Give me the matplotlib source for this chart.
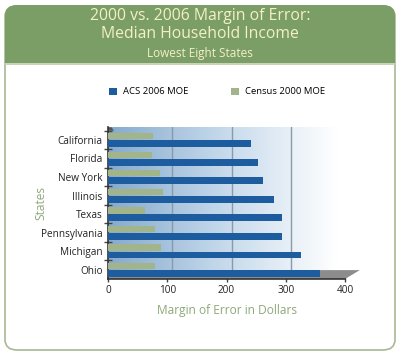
import numpy as np
import matplotlib
matplotlib.use("Agg")
import matplotlib.pyplot as plt
from matplotlib.patches import FancyBboxPatch, Rectangle, Polygon
from matplotlib.colors import LinearSegmentedColormap
import matplotlib.transforms as mtransforms

states = ["California", "Florida", "New York", "Illinois", "Texas",
          "Pennsylvania", "Michigan", "Ohio"]
acs_2006 = [242, 253, 261, 280, 293, 293, 325, 358]
census_2000 = [76, 75, 88, 92, 62, 79, 90, 80]
xticks = [0, 100, 200, 300, 400]

plt.rcParams['font.family'] = ['Open Sans', 'DejaVu Sans']

fig = plt.figure(figsize=(4.0, 3.54), dpi=100)
W, H = 400, 354

def fx(px):
    return px / W

def fy(py):
    return 1 - py / H

# Frame
frame = FancyBboxPatch((fx(5), fy(350)), fx(390), (350 - 6) / H,
                       boxstyle="round,pad=0,rounding_size=0.03",
                       transform=fig.transFigure, facecolor="white",
                       edgecolor="#a9b894", linewidth=1.2, zorder=0)
fig.patches.append(frame)
header = FancyBboxPatch((fx(5), fy(63)), fx(390), (63 - 5) / H,
                        boxstyle="round,pad=0,rounding_size=0.03",
                        transform=fig.transFigure, facecolor="#7a9e66",
                        edgecolor="none", zorder=1)
fig.patches.append(header)
fig.patches.append(Rectangle((fx(5), fy(63)), fx(390), 20 / H,
                             transform=fig.transFigure, facecolor="#7a9e66",
                             edgecolor="none", zorder=1))
fig.patches.append(Rectangle((fx(5), fy(64.5)), fx(390), 1.5 / H,
                             transform=fig.transFigure, facecolor="#c9d4b4",
                             edgecolor="none", zorder=1))

tc = "#f4f0c6"
fig.text(0.5, fy(16), "2000 vs. 2006 Margin of Error:", ha="center", va="center",
         fontsize=11.3, color=tc, zorder=3)
fig.text(0.5, fy(34), "Median Household Income", ha="center", va="center",
         fontsize=11.3, color=tc, zorder=3)
fig.text(0.5, fy(53), "Lowest Eight States", ha="center", va="center",
         fontsize=8.5, color=tc, zorder=3)

n = len(states)
ax = fig.add_axes([fx(108), fy(279), fx(345 - 108), (279 - 127.3) / H])
ax.set_zorder(5)
ax.patch.set_alpha(0)
ax.set_xlim(0, 400)
ax.set_ylim(n - 0.5, -0.68)

# gradient background
grad = np.linspace(0, 1, 256)[None, :]
cmap = LinearSegmentedColormap.from_list("bg", ["#86aacd", "#c5d9eb", "#ffffff"])
ax.imshow(grad, extent=(0, 385, n - 0.5, -0.68), aspect="auto",
          cmap=cmap, zorder=0, interpolation="bicubic")

# gridlines (offset for 3D look)
off = mtransforms.ScaledTranslation(5 / 100, 0, fig.dpi_scale_trans)
for t in xticks[1:4]:
    ax.plot([t, t], [n - 0.5, -0.68], color="#8a9aa8", lw=1.0,
            transform=ax.transData + off, zorder=1)

y = np.arange(n)
ax.barh(y + 0.2, acs_2006, height=0.36, color="#1d5c9f", zorder=3,
        label="ACS 2006 MOE")
ax.barh(y - 0.2, census_2000, height=0.34, color="#a2b58a", zorder=3,
        label="Census 2000 MOE")

# gray floor
ax.add_patch(Polygon([(0, n - 0.5), (400, n - 0.5), (425, n - 0.98), (20, n - 0.98)],
                     closed=True, facecolor="#8c8c8c", edgecolor="none",
                     zorder=2, clip_on=False))
# small dark corner at top
ax.add_patch(Polygon([(0, -0.5), (0, -0.68), (6, -0.68), (10, -0.5)],
                     closed=True, facecolor="#555555", edgecolor="none",
                     zorder=2, clip_on=False))

for s in ["top", "right"]:
    ax.spines[s].set_visible(False)
ax.spines["left"].set_color("#333333")
ax.spines["bottom"].set_color("#333333")
ax.spines["left"].set_linewidth(1.2)
ax.spines["bottom"].set_linewidth(1.2)

ax.set_xticks(xticks)
ax.set_xticklabels([str(t) for t in xticks], fontsize=7.2, color="#222222")
ax.set_yticks(y)
ax.set_yticklabels(states, fontsize=7.2, color="#222222")
ax.tick_params(axis="y", which="major", length=0, pad=4)
ax.set_yticks(np.arange(n) - 0.5, minor=True)
ax.tick_params(axis="y", which="minor", length=6, direction="inout",
               color="#444444", width=1)
ax.tick_params(axis="x", length=5, direction="inout", color="#444444",
               width=1, pad=2)

ax.set_xlabel("Margin of Error in Dollars", fontsize=8.6, color="#8fa878")
ax.xaxis.set_label_coords((227 - 108) / 237, -(304 - 279) / (279 - 127.3))
ax.set_ylabel("States", fontsize=8.6, color="#8fa878")
ax.yaxis.set_label_coords(-(108 - 47) / 237, 0.5)

handles, labels = ax.get_legend_handles_labels()
leg = fig.legend(handles, labels, loc="center", bbox_to_anchor=(fx(217), fy(92)),
                 ncol=2, frameon=False, fontsize=6.8, handlelength=0.8,
                 handleheight=0.8, columnspacing=4.6, handletextpad=0.6)
leg.set_zorder(6)

fig.savefig("out.png", dpi=100)
